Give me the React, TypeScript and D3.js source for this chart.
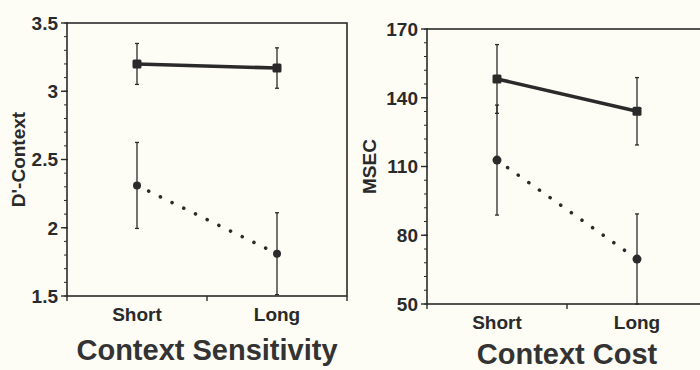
import React from "react";
import * as d3 from "d3";

const categories = ["Short", "Long"];

// Context Sensitivity (D'-Context)
const sensTicks = [1.5, 2, 2.5, 3, 3.5];
const sensSolid = [3.2, 3.17];
const sensSolidErr = [0.15, 0.148];
const sensDotted = [2.31, 1.81];
const sensDottedErr = [0.315, 0.3];

// Context Cost (MSEC)
const costTicks = [50, 80, 110, 140, 170];
const costSolid = [148.2, 134.1];
const costSolidErr = [15, 14.7];
const costDotted = [112.8, 69.6];
const costDottedErr = [24, 19.7];

const INK = "#2a2a2a";
const FONT = "'Liberation Sans', Arial, Helvetica, sans-serif";

type PanelProps = {
  x0: number; x1: number; yTop: number; yBottom: number;
  ticks: number[]; minorStep: number; yLabel: string; yLabelX: number;
  title: string; titleY: number;
  solid: number[]; solidErr: number[]; dotted: number[]; dottedErr: number[];
  circleR: number;
};

function Panel(p: PanelProps) {
  const x = d3.scaleBand<string>().domain(categories).range([p.x0, p.x1]).paddingInner(0).paddingOuter(0);
  const bw = x.bandwidth();
  const cx = (c: string) => (x(c) as number) + bw / 2;
  const ext = d3.extent(p.ticks) as [number, number];
  const y = d3.scaleLinear().domain(ext).range([p.yBottom, p.yTop]);
  const minor = d3.range(ext[0], ext[1] + 1e-9, p.minorStep);
  const boundaries = [p.x0, p.x0 + bw, p.x1];
  const line = d3.line<number>().x((_, i) => cx(categories[i])).y((d) => y(d));
  const errBars = (vals: number[], errs: number[], key: string) =>
    vals.map((v, i) => {
      const xc = cx(categories[i]);
      const hi = y(Math.min(v + errs[i], ext[1]));
      const lo = y(Math.max(v - errs[i], ext[0]));
      return (
        <g key={key + i} stroke={INK} strokeWidth={1.3}>
          <line x1={xc} x2={xc} y1={hi} y2={lo} />
          <line x1={xc - 2} x2={xc + 2} y1={hi} y2={hi} />
          <line x1={xc - 2} x2={xc + 2} y1={lo} y2={lo} />
        </g>
      );
    });
  const midX = (p.x0 + p.x1) / 2;
  const midY = (p.yTop + p.yBottom) / 2;
  return (
    <g>
      <rect x={p.x0} y={p.yTop} width={p.x1 - p.x0} height={p.yBottom - p.yTop} fill="none" stroke={INK} strokeWidth={1.6} />
      {minor.map((m, i) => (
        <line key={"mn" + i} x1={p.x0 - 3} x2={p.x0} y1={y(m)} y2={y(m)} stroke={INK} strokeWidth={1} />
      ))}
      {p.ticks.map((t) => (
        <g key={"t" + t}>
          <line x1={p.x0 - 6} x2={p.x0 + 1} y1={y(t)} y2={y(t)} stroke={INK} strokeWidth={1.4} />
          <text x={p.x0 - 9} y={y(t)} dy="0.36em" textAnchor="end" fontFamily={FONT} fontWeight="bold" fontSize={19} fill={INK}>
            {d3.format("~g")(t)}
          </text>
        </g>
      ))}
      {boundaries.map((b, i) => (
        <line key={"xb" + i} x1={b} x2={b} y1={p.yBottom} y2={p.yBottom + 5} stroke={INK} strokeWidth={1.4} />
      ))}
      {categories.map((c) => (
        <text key={"xl" + c} x={cx(c)} y={p.yBottom + 25} textAnchor="middle" fontFamily={FONT} fontWeight="bold" fontSize={19} fill={INK}>
          {c}
        </text>
      ))}
      <text transform={`translate(${p.yLabelX},${midY}) rotate(-90)`} textAnchor="middle" dy="0.36em" fontFamily={FONT} fontWeight="bold" fontSize={19} fill={INK}>
        {p.yLabel}
      </text>
      <text x={midX} y={p.titleY} textAnchor="middle" fontFamily={FONT} fontWeight="bold" fontSize={29} fill="#333">
        {p.title}
      </text>
      {errBars(p.solid, p.solidErr, "es")}
      {errBars(p.dotted, p.dottedErr, "ed")}
      <path d={line(p.solid) as string} fill="none" stroke={INK} strokeWidth={3.6} />
      <path d={line(p.dotted) as string} fill="none" stroke={INK} strokeWidth={3.6} strokeLinecap="round" strokeDasharray="0.01 13" />
      {p.solid.map((v, i) => (
        <rect key={"ms" + i} x={cx(categories[i]) - 4.5} y={y(v) - 4.5} width={9} height={9} rx={1.5} fill={INK} />
      ))}
      {p.dotted.map((v, i) => (
        <circle key={"md" + i} cx={cx(categories[i])} cy={y(v)} r={p.circleR} fill={INK} />
      ))}
    </g>
  );
}

export default function App() {
  return (
    <svg width={700} height={370} style={{ position: "absolute", left: 0, top: 0, display: "block" }}>
      <rect x={0} y={0} width={700} height={370} fill="#fdfdf5" />
      <Panel
        x0={67} x1={347} yTop={23} yBottom={296}
        ticks={sensTicks} minorStep={0.1} yLabel="D'-Context" yLabelX={18}
        title="Context Sensitivity" titleY={360}
        solid={sensSolid} solidErr={sensSolidErr} dotted={sensDotted} dottedErr={sensDottedErr}
        circleR={4}
      />
      <Panel
        x0={427} x1={707} yTop={29} yBottom={304}
        ticks={costTicks} minorStep={6} yLabel="MSEC" yLabelX={369}
        title="Context Cost" titleY={364}
        solid={costSolid} solidErr={costSolidErr} dotted={costDotted} dottedErr={costDottedErr}
        circleR={4.5}
      />
    </svg>
  );
}
